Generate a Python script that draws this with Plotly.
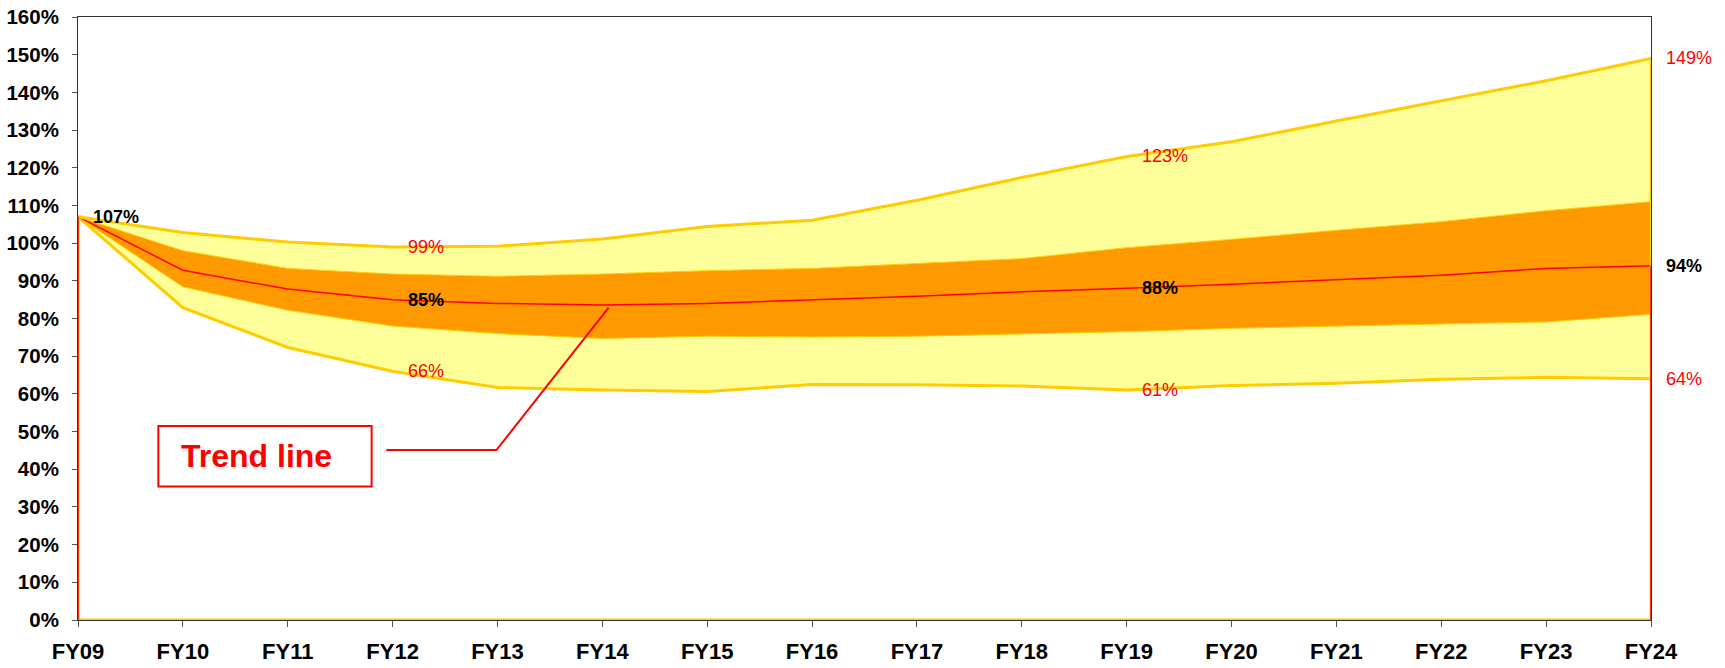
import plotly.graph_objects as go

# Fiscal years on the horizontal axis
years = ["FY09", "FY10", "FY11", "FY12", "FY13", "FY14", "FY15", "FY16",
         "FY17", "FY18", "FY19", "FY20", "FY21", "FY22", "FY23", "FY24"]

# Projection envelope (percent)
upper = [107, 102.8, 100.3, 99, 99.2, 101.1, 104.4, 106.1,
         111.4, 117.4, 123, 126.9, 132.4, 137.7, 143.1, 149]
band_top = [107, 98.0, 93.3, 91.8, 91.2, 91.8, 92.7, 93.3,
            94.6, 95.9, 98.8, 101.0, 103.4, 105.7, 108.6, 111.0]
trend = [107, 92.8, 87.8, 85, 84.0, 83.6, 84.0, 84.9,
         85.9, 87.1, 88, 89.1, 90.4, 91.5, 93.3, 94]
band_bottom = [107, 88.4, 82.2, 78.0, 76.0, 74.7, 75.3, 75.1,
               75.3, 75.9, 76.5, 77.4, 78.0, 78.5, 79.1, 81.1]
lower = [107, 82.9, 72.3, 66, 61.7, 61.0, 60.6, 62.5,
         62.4, 62.1, 61, 62.2, 62.8, 63.9, 64.4, 64]

# Years that carry value labels
trend_label_idx = [0, 3, 10, 15]
bound_label_idx = [3, 10, 15]

YELLOW_FILL = "#FFFF99"
YELLOW_LINE = "#FFCC00"
ORANGE = "#FF9900"
RED = "#FF0000"
FONT = "Liberation Sans, Arial, sans-serif"

fig = go.Figure()

# Stacked envelope: lower bound -> inner band -> trend -> outer band
fig.add_trace(go.Scatter(x=years, y=lower, mode="lines",
                         line=dict(color=YELLOW_LINE, width=3)))
fig.add_trace(go.Scatter(x=years, y=band_bottom, mode="lines", fill="tonexty",
                         fillcolor=YELLOW_FILL, line=dict(color=YELLOW_LINE, width=1)))
fig.add_trace(go.Scatter(x=years, y=trend, mode="lines", fill="tonexty",
                         fillcolor=ORANGE, line=dict(color=RED, width=1.5)))
fig.add_trace(go.Scatter(x=years, y=band_top, mode="lines", fill="tonexty",
                         fillcolor=ORANGE, line=dict(color=YELLOW_LINE, width=1)))
fig.add_trace(go.Scatter(x=years, y=upper, mode="lines", fill="tonexty",
                         fillcolor=YELLOW_FILL, line=dict(color=YELLOW_LINE, width=3)))

# Area outlines closing the envelope at both ends and along the baseline
for xs, ys, col, w in [
    ([years[0], years[0]], [0, upper[0]], YELLOW_LINE, 3),
    ([years[-1], years[-1]], [0, upper[-1]], YELLOW_LINE, 2.5),
    ([years[0], years[-1]], [0, 0], YELLOW_LINE, 3),
    ([years[0], years[0]], [0, trend[0]], RED, 1.5),
    ([years[-1], years[-1]], [0, trend[-1]], RED, 1.5),
]:
    fig.add_trace(go.Scatter(x=xs, y=ys, mode="lines", line=dict(color=col, width=w)))

annotations = []


def value_label(i, v, color, bold):
    txt = f"{v:.0f}%"
    if bold:
        txt = f"<b>{txt}</b>"
    annotations.append(dict(x=years[i], y=v, xref="x", yref="y", text=txt,
                            showarrow=False, xanchor="left", yanchor="middle",
                            xshift=13, font=dict(family=FONT, size=18, color=color)))


for i in trend_label_idx:
    value_label(i, trend[i], "#000000", True)
for i in bound_label_idx:
    value_label(i, upper[i], RED, False)
    value_label(i, lower[i], RED, False)

# Callout pointing at the trend line
annotations.append(dict(x=2.95, y=43.5, xref="x", yref="y", text="<b>Trend line</b>",
                        showarrow=False, xanchor="right", yanchor="middle",
                        xshift=-53, font=dict(family=FONT, size=32, color=RED)))

shapes = [
    dict(type="rect", xref="x", yref="y", x0=0.766, x1=2.80, y0=35.4, y1=51.5,
         line=dict(color=RED, width=2), fillcolor="rgba(0,0,0,0)", layer="above"),
    dict(type="path", xref="x", yref="y",
         path="M 2.94,45.1 L 3.99,45.1 L 5.06,82.9",
         line=dict(color=RED, width=2), layer="above"),
]

fig.update_layout(
    width=1725, height=668,
    margin=dict(l=78, r=74, t=17, b=48, autoexpand=False),
    paper_bgcolor="white", plot_bgcolor="white",
    showlegend=False, hovermode=False,
    annotations=annotations, shapes=shapes,
    font=dict(family=FONT, color="#000000"),
)
fig.update_xaxes(
    type="category", range=[0, len(years) - 1], automargin=False,
    showgrid=False, zeroline=False,
    showline=True, linecolor="#333333", linewidth=1, mirror=True,
    ticks="outside", ticklen=6, tickcolor="#555555",
    tickfont=dict(family=FONT, size=22, color="#000000", weight="bold"),
    ticklabelstandoff=6, layer="above traces",
)
fig.update_yaxes(
    range=[0, 160], dtick=10, ticksuffix="%", automargin=False,
    showgrid=False, zeroline=False,
    showline=True, linecolor="#333333", linewidth=1, mirror=True,
    ticks="outside", ticklen=5, tickcolor="#555555",
    tickfont=dict(family=FONT, size=20.5, color="#000000", weight="bold"),
    ticklabelstandoff=9, layer="below traces",
)

fig.write_html("out.html")
